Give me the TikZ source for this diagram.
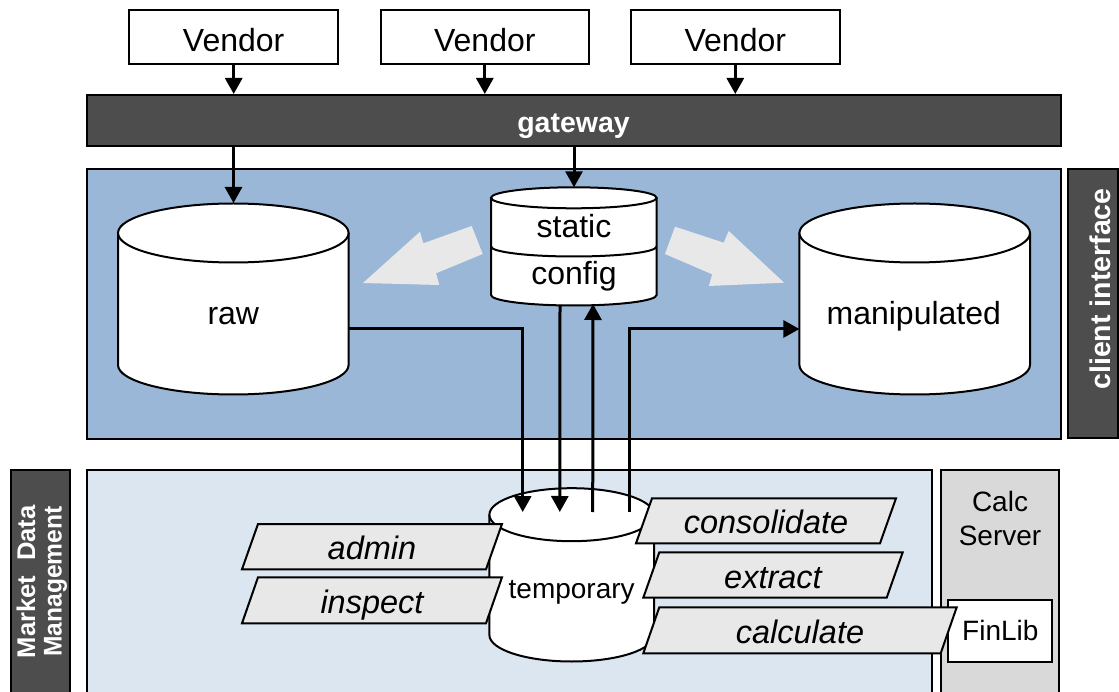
\documentclass[tikz,border=0pt]{standalone}
\usepackage{fontspec}
\usepackage{graphicx}
\setmainfont{Liberation Sans}
\usetikzlibrary{arrows.meta}
\definecolor{panelblue}{RGB}{155,183,215}
\definecolor{lowpanel}{RGB}{220,230,241}
\definecolor{darkbar}{RGB}{77,77,77}
\definecolor{calcgray}{RGB}{217,217,217}
\definecolor{paragray}{RGB}{232,232,232}
\definecolor{bigarrow}{RGB}{232,232,232}

\newcommand\dbcyl[5]{% cx, ytop, ybot, rx, ry
  \fill[white] ({#1-#4},#2) -- ({#1-#4},#3) arc[start angle=180,end angle=0,x radius=#4,y radius=#5] -- ({#1+#4},#2) -- cycle;
  \draw ({#1-#4},#2) -- ({#1-#4},#3) arc[start angle=180,end angle=0,x radius=#4,y radius=#5] -- ({#1+#4},#2);
  \draw[fill=white] (#1,#2) ellipse[x radius=#4,y radius=#5];
}
\newcommand\paragram[6]{% name, tlx, ty, trx, by, text
  \draw[fill=paragray] (#2,#3) -- (#4,#3) -- ({#4-16},#5) -- ({#2-16},#5) -- cycle;
  \node[paratext] (#1) at ({(#2+#4)/2-8},{(#3+#5)/2+13}) {#6};
}

\tikzset{
  panelbox/.style={draw, inner sep=0pt, line width=2pt},
  vbox/.style={draw, fill=white, inner sep=0pt, line width=2pt, minimum width=208.5pt, minimum height=54pt},
  basetext/.style={anchor=base, inner sep=0pt, font=\fontsize{32}{36}\selectfont},
  smalltext/.style={anchor=base, inner sep=0pt, font=\fontsize{28}{32}\selectfont},
  paratext/.style={anchor=base, inner sep=0pt, font=\itshape\fontsize{32.5}{36}\selectfont},
  whitebold/.style={anchor=base, inner sep=0pt, text=white, font=\bfseries\fontsize{28.5}{32}\selectfont},
  mdmtext/.style={whitebold, rotate=90, font=\bfseries\fontsize{25.6}{28}\selectfont},
  conn/.style={line width=3pt},
  arr/.style={conn, -{Triangle[length=16pt,width=17pt]}},
}

\begin{document}
\begin{tikzpicture}[x=1pt,y=-1pt,line width=2pt]
\useasboundingbox (0,0) rectangle (1119,692);
\clip (0,0) rectangle (1119,692);

% panels
\node[panelbox, fill=panelblue, minimum width=974.2pt, minimum height=269.5pt] (clientpanel) at (573.6,304.25) {};
\node[panelbox, fill=darkbar, minimum width=49.7pt, minimum height=268.7pt] (cibar) at (1093.2,303.65) {};
\node[whitebold, rotate=90] (citext) at (1110,289) {client interface};

\node[panelbox, fill=lowpanel, minimum width=845.5pt, minimum height=240pt] (mdmpanel) at (509.55,590) {};
\node[panelbox, fill=calcgray, minimum width=118.6pt, minimum height=240pt] (calcsrv) at (1000,590) {};
\node[panelbox, fill=darkbar, minimum width=59.3pt, minimum height=240pt] (mdmbar) at (40.35,590) {};
\node[mdmtext] (mdmt1) at (35,581.7) {Market\hspace{0.3em} Data};
\node[mdmtext] (mdmt2) at (61.5,581.7) {\scalebox{0.96}[1]{Management}};

% vendors and gateway
\node[vbox] (v1) at (233.7,37) {};
\node[vbox] (v2) at (484.8,37) {};
\node[vbox] (v3) at (735.3,37) {};
\node[basetext] (v1t) at (233.7,51.7) {Vendor};
\node[basetext] (v2t) at (484.8,51.7) {Vendor};
\node[basetext] (v3t) at (735.3,51.7) {Vendor};

\node[panelbox, fill=darkbar, minimum width=974pt, minimum height=51.5pt] (gw) at (573.5,120.75) {};
\node[whitebold] (gwt) at (573.5,132.5) {gateway};

\draw[arr] (v1.south) -- (v1.south |- gw.north);
\draw[arr] (v2.south) -- (v2.south |- gw.north);
\draw[arr] (v3.south) -- (v3.south |- gw.north);

% big light arrows
\fill[bigarrow] (471.7,226) -- (423.3,243.3) -- (420,231.7) -- (363,283) -- (439.3,285) -- (436,273.3) -- (482.7,254) -- cycle;
\fill[bigarrow] (675,226.7) -- (723.7,242.7) -- (728.7,231) -- (784.1,282.7) -- (708.8,286) -- (712.2,274.3) -- (665,254) -- cycle;

% cylinders
\dbcyl{233.3}{233}{365}{115.3}{29.5}
\dbcyl{914.7}{233}{365}{115.3}{29.5}
\dbcyl{573.8}{197.8}{295}{82.8}{10.5}
\draw ({573.8-82.8},246.5) arc[start angle=180,end angle=0,x radius=82.8,y radius=10];
\dbcyl{571.7}{514.7}{635}{82.3}{26.5}

\node[basetext] (raw) at (233.3,325) {raw};
\node[basetext] (manip) at (913.8,325) {manipulated};
\node[basetext] (static) at (574,238) {static};
\node[basetext] (config) at (574,285) {config};
\node[smalltext] (temp) at (571.7,598.3) {temporary};

% connector end points
\coordinate (rawT) at (233.5,203);
\coordinate (stT) at (574,187.3);
\coordinate (rawE) at (348.6,329);
\coordinate (manW) at (799.4,329);
\coordinate (stB1) at (560,305);
\coordinate (stB2) at (593,304);
\coordinate (tmp1) at (522.7,512);
\coordinate (tmp2) at (559.8,512);
\coordinate (tmp3) at (592.7,512);
\coordinate (tmp4) at (629.3,512);

\draw[arr] (gw.south -| rawT) -- (rawT);
\draw[arr] (gw.south -| stT) -- (stT);
\draw[arr] (rawE) -| (tmp1);
\draw[arr] (stB1) -- (tmp2);
\draw[arr] (tmp3) -- (stB2);
\draw[arr] (tmp4) |- (manW);

% calc server
\node[smalltext] (calct1) at (1000,511.7) {Calc};
\node[smalltext] (calct2) at (1000,545) {Server};
\node[draw, fill=white, inner sep=0pt, minimum width=104pt, minimum height=61.7pt, font=\fontsize{28}{32}\selectfont] (finlib) at (1000.3,630.9) {FinLib};

% parallelograms
\paragram{admin}{258}{524}{502}{569.3}{admin}
\paragram{inspect}{258}{577.3}{502}{623.3}{inspect}
\paragram{consolidate}{652}{498.3}{896}{543.3}{consolidate}
\paragram{extract}{659.3}{552.3}{902.7}{597.7}{extract}
\paragram{calculate}{659.3}{607.3}{956.7}{653.3}{calculate}
\end{tikzpicture}
\end{document}
